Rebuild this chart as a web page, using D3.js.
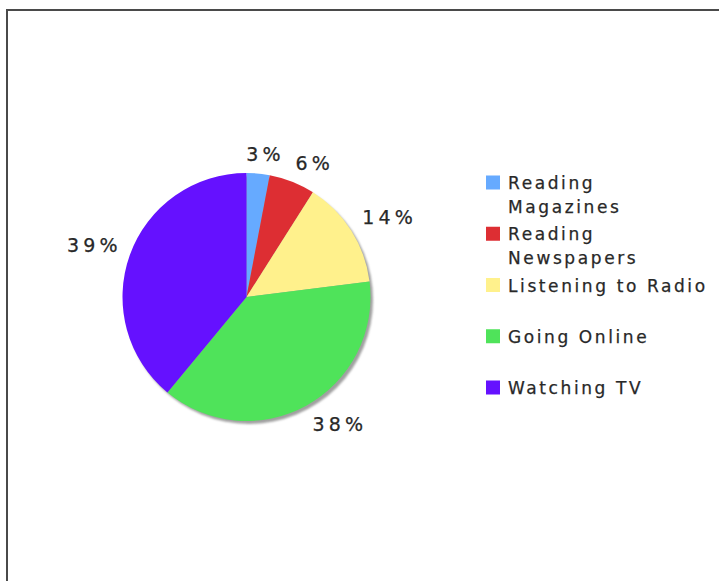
<!DOCTYPE html>
<html>
<head>
<meta charset="utf-8">
<script src="https://cdn.jsdelivr.net/npm/d3@7"></script>
<style>
  html, body { margin: 0; padding: 0; background: #fff; }
  svg { display: block; }
</style>
</head>
<body>
<svg id="chart" width="719" height="581"></svg>
<script>
// ---- data ----
const categories = ["Reading Magazines", "Reading Newspapers", "Listening to Radio", "Going Online", "Watching TV"];
const values = [3, 6, 14, 38, 39];
const legendLines = [["Reading", "Magazines"], ["Reading", "Newspapers"], ["Listening to Radio"], ["Going Online"], ["Watching TV"]];
const colors = ["#66aaff", "#dd2e33", "#fff18c", "#4fe35a", "#6511ff"];

// ---- layout ----
const W = 719, H = 581;
const cx = 246.5, cy = 297, R = 124;
const labelR = 137;
const font = "'DejaVu Sans', Verdana, sans-serif";
const textColor = "#282828";

const svg = d3.select("#chart");

// frame (extends beyond the right and bottom edges)
svg.append("rect")
  .attr("x", 7).attr("y", 10)
  .attr("width", W + 20).attr("height", H + 20)
  .attr("fill", "#fff")
  .attr("stroke", "#4a4a4a").attr("stroke-width", 2);

const defs = svg.append("defs");
defs.append("filter").attr("id", "blur")
  .attr("x", "-10%").attr("y", "-10%").attr("width", "120%").attr("height", "120%")
  .append("feGaussianBlur").attr("stdDeviation", 0.8);

const color = d3.scaleOrdinal().domain(categories).range(colors);

const pie = d3.pie().sort(null).value(d => d.value).startAngle(0).endAngle(2 * Math.PI);
const arcs = pie(categories.map((c, i) => ({ name: c, value: values[i] })));
const arc = d3.arc().innerRadius(0).outerRadius(R);

const g = svg.append("g").attr("transform", `translate(${cx},${cy})`);

// shadow
g.append("circle")
  .attr("cx", 2.5).attr("cy", 3).attr("r", R)
  .attr("fill", "#a0a0a0")
  .attr("filter", "url(#blur)");

g.selectAll("path.slice")
  .data(arcs)
  .join("path")
  .attr("class", "slice")
  .attr("d", arc)
  .attr("fill", d => color(d.data.name));

// percentage labels
const lblSize = 19, lblLS = 4.2, lblHalfH = 7;
const labels = g.selectAll("text.lbl")
  .data(arcs)
  .join("text")
  .attr("class", "lbl")
  .attr("font-family", font)
  .attr("font-size", lblSize)
  .style("letter-spacing", lblLS + "px")
  .attr("fill", textColor)
  .attr("stroke", textColor).attr("stroke-width", 0.25)
  .text(d => d.data.value + "%");

labels.each(function(d) {
  const a = (d.startAngle + d.endAngle) / 2;
  const s = Math.sin(a), c = Math.cos(a);
  const px = labelR * s, py = -labelR * c;
  const w = this.getComputedTextLength() - lblLS;
  const hw = w / 2;
  const sx = Math.max(-1, Math.min(1, s * 2.5));
  const sy = Math.max(-1, Math.min(1, -c * 2.5));
  const bx = px + hw * sx;
  const by = py + lblHalfH * sy;
  d3.select(this)
    .attr("x", bx - hw)
    .attr("y", by + lblHalfH);
});

// legend
const legSize = 17, legLS = 2.6, lineH = 24;
const ly = d3.scalePoint().domain(categories).range([189, 394]);
const legend = svg.append("g");
const items = legend.selectAll("g.item")
  .data(categories)
  .join("g")
  .attr("class", "item")
  .attr("transform", d => `translate(0,${ly(d)})`);

items.append("rect")
  .attr("x", 486).attr("y", -13.5)
  .attr("width", 14).attr("height", 14)
  .attr("fill", d => color(d));

items.append("text")
  .attr("font-family", font)
  .attr("font-size", legSize)
  .style("letter-spacing", legLS + "px")
  .attr("fill", textColor)
  .attr("stroke", textColor).attr("stroke-width", 0.25)
  .each(function(d, i) {
    const t = d3.select(this);
    legendLines[i].forEach((line, j) => {
      t.append("tspan").attr("x", 508).attr("y", j * lineH).text(line);
    });
  });
</script>
</body>
</html>
